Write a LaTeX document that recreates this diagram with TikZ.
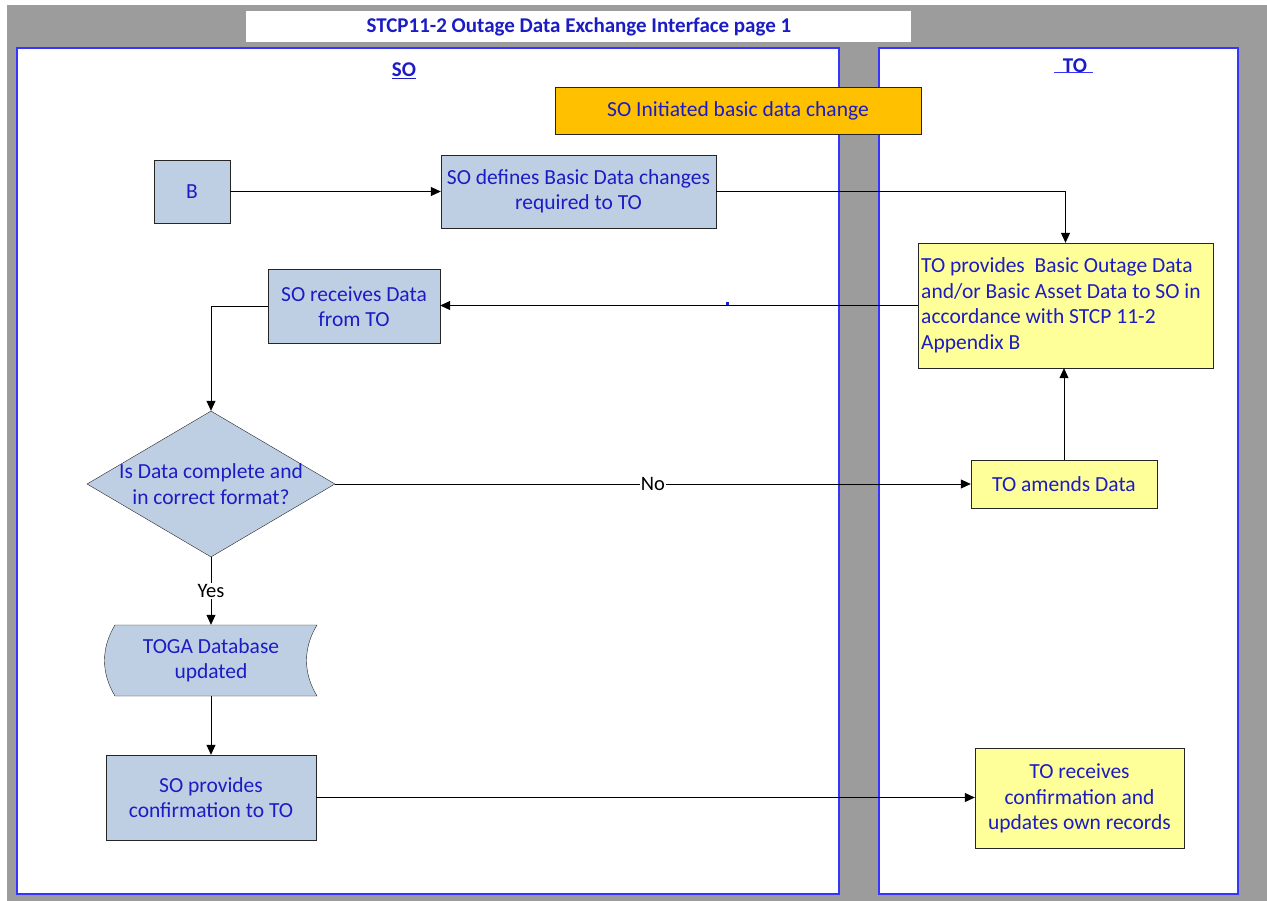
\documentclass[tikz,border=0pt]{standalone}
\usepackage{fontspec}
\setmainfont{Carlito}
\usetikzlibrary{arrows.meta,shapes.geometric}

\definecolor{lanegray}{HTML}{9C9C9C}
\definecolor{laneblue}{HTML}{3535FF}
\definecolor{textblue}{HTML}{1C1CC4}
\definecolor{boxblue}{HTML}{BFCFE3}
\definecolor{boxyellow}{HTML}{FFFF99}
\definecolor{boxorange}{HTML}{FFC000}

\tikzset{
  boxtext/.style={text=textblue, font=\fontsize{21.5}{25.5}\selectfont},
  sobox/.style={boxtext, draw=black!85, fill=boxblue, align=center, inner sep=0pt},
  tobox/.style={boxtext, draw=black!85, fill=boxyellow, align=center, inner sep=0pt},
  flow/.style={-{Triangle[length=10pt,width=9pt]}, black, line width=0.8pt},
  flowlabel/.style={fill=white, inner sep=1pt, font=\fontsize{20.5}{24}\selectfont}
}

\begin{document}
\begin{tikzpicture}[x=1pt, y=-1pt]

            \useasboundingbox (0,0) rectangle (1267,901);
            \fill [lanegray] (7,5) rectangle (1267,901);

            % title and lanes
            \fill [white] (246,11) rectangle (911,42);
            \node (title) at (579,26.5) [text=textblue, font=\fontsize{21}{24}\selectfont\bfseries] {STCP11-2 Outage Data Exchange Interface page 1};
            \draw [laneblue, fill=white, line width=1.2pt] (17,48) rectangle (839,894);
            \draw [laneblue, fill=white, line width=1.2pt] (879,48) rectangle (1238,894);
            \node (solane) at (404,71) [text=textblue, font=\fontsize{21}{24}\selectfont\bfseries] {\underline{SO}};
            \node (tolane) at (1075,66) [text=textblue, font=\fontsize{21}{24}\selectfont\bfseries] {TO};
            \draw [laneblue, line width=1pt] (1054,73) -- (1093,73);
            \fill [textblue] (726,302) rectangle (729,305);

            % process boxes
            \node (init) at (738,110.5) [sobox, fill=boxorange, minimum width=366, minimum height=47] {SO Initiated basic data change};
            \node (b) at (192,191.5) [sobox, minimum width=76, minimum height=63] {B};
            \node (define) at (578.5,191.5) [sobox, minimum width=275, minimum height=73] {SO defines Basic Data changes\\required to TO};
            \node (provide) at (1065.5,305.5) [tobox, minimum width=295, minimum height=125] {};
            \node (providetext) at (921,305.5) [boxtext, anchor=west, align=left, inner sep=0pt] {TO provides\ \ Basic Outage Data\\and/or Basic Asset Data to SO in\\accordance with STCP 11-2\\Appendix B};
            \node (receive) at (354,306.5) [sobox, minimum width=172, minimum height=74] {SO receives Data\\from TO};
            \node (check) at (211,484) [diamond, draw=black!85, fill=boxblue, minimum width=248, minimum height=146, inner sep=0pt] {};
            \node (checktext) at (check.center) [boxtext, align=center] {Is Data complete and\\in correct format?};
            \draw [black!85, fill=boxblue] (115,625) -- (317,625) .. controls (303,648) and (303,673) .. (317,696) -- (115,696) .. controls (101,673) and (101,648) .. (115,625);
            \node (toga) at (211,660.5) [boxtext, align=center, minimum width=202, minimum height=71, inner sep=0pt] {TOGA Database\\updated};
            \node (confirm) at (211,797.5) [sobox, minimum width=210, minimum height=85] {SO provides\\confirmation to TO};
            \node (amend) at (1064,484) [tobox, minimum width=186, minimum height=48] {TO amends Data};
            \node (records) at (1079.5,798.5) [tobox, minimum width=209, minimum height=100] {TO receives\\confirmation and\\updates own records};

            % connectors
            \draw [flow] (b) -- (define);
            \draw [flow] (define.east) -| (provide.north);
            \draw [flow] (provide.west) -- (provide.west -| receive.east);
            \draw [flow] (receive.west) -| (check.north);
            \draw [flow] (check.east) -- node [flowlabel] {No} (amend.west);
            \draw [flow] (amend.north) -- (amend.north |- provide.south);
            \draw [flow] (check.south) -- node [flowlabel] {Yes} (toga.north);
            \draw [flow] (toga.south) -- (confirm.north);
            \draw [flow] (confirm.east) -- (confirm.east -| records.west);
            \end{tikzpicture}
\end{document}
